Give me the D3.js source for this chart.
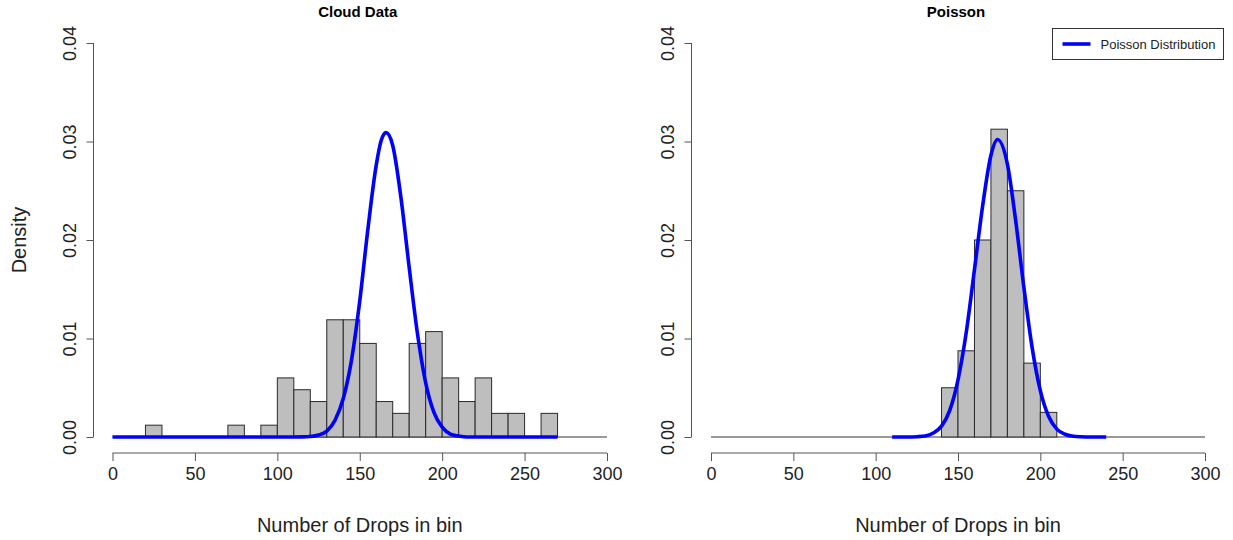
<!DOCTYPE html>
<meta charset="utf-8">
<style>
body { margin: 0; background: #fff; }
svg { font-family: "Liberation Sans", Arial, sans-serif; }
.axis path, .axis line { stroke: #555; }
.axis text { fill: #222; font-size: 18px; }
.bars rect { fill: #bebebe; stroke: #2a2a2a; stroke-width: 1; }
</style>
<svg width="1233" height="540"></svg>
<script src="https://d3js.org/d3.v7.min.js"></script>
<script>
// cloud data histogram: bin lower edges (width 10) and densities
var cloudBins = [20, 70, 90, 100, 110, 120, 130, 140, 150, 160, 170, 180, 190, 200, 210, 220, 230, 240, 260];
var cloudDensity = [0.0012, 0.0012, 0.0012, 0.0060, 0.0048, 0.0036, 0.0119, 0.0119, 0.0095, 0.0036, 0.0024,
  0.0095, 0.0107, 0.0060, 0.0036, 0.0060, 0.0024, 0.0024, 0.0024];

// blue curve on the cloud panel
var cloudCurveX = [0, 110, 115, 120, 125, 130, 135, 140, 145, 150, 155, 160, 163, 166, 170, 175, 180, 185, 190, 195, 200, 205, 210, 215, 270];
var cloudCurveY = [0, 0, 0.00001, 0.00005, 0.0002, 0.0006, 0.0017, 0.0039, 0.0078, 0.0138, 0.0212, 0.0276, 0.0301, 0.0309, 0.0296, 0.0243, 0.0172, 0.0105, 0.0055, 0.0025, 0.0010, 0.0003, 0.0001, 0, 0];

// poisson panel histogram
var poisBins = [140, 150, 160, 170, 180, 190, 200];
var poisDensity = [0.0050, 0.00875, 0.0200, 0.03125, 0.0250, 0.0075, 0.0025];

var poisCurveX = [110, 120, 125, 130, 135, 140, 145, 150, 155, 160, 165, 170, 174, 180, 185, 190, 195, 200, 205, 210, 215, 220, 225, 230, 240];
var poisCurveY = [0, 0, 0.00003, 0.0001, 0.0004, 0.0011, 0.0027, 0.0058, 0.0106, 0.0170, 0.0235, 0.0286, 0.0302, 0.0277, 0.0220, 0.0152, 0.0091, 0.0047, 0.0021, 0.0008, 0.00028, 0.00008, 0.00002, 0, 0];

var xTicks = [0, 50, 100, 150, 200, 250, 300];
var yTicks = [0, 0.01, 0.02, 0.03, 0.04];

var svg = d3.select("svg");

function panel(opt) {
  var x = d3.scaleLinear().domain([0, 300]).range(opt.xr);
  var y = d3.scaleLinear().domain([0, 0.04]).range([437, 43]);
  var g = svg.append("g");

  // title
  g.append("text")
    .attr("x", (opt.xr[0] + opt.xr[1]) / 2 - 2)
    .attr("y", 17)
    .attr("text-anchor", "middle")
    .style("font-weight", "bold")
    .style("font-size", "15px")
    .text(opt.title);

  // baseline
  g.append("line")
    .attr("x1", x(0)).attr("x2", x(300))
    .attr("y1", y(0)).attr("y2", y(0))
    .attr("stroke", "#777").attr("stroke-width", 1.5);

  // bars
  g.append("g").attr("class", "bars")
    .selectAll("rect")
    .data(opt.bins)
    .enter().append("rect")
    .attr("x", function(d) { return x(d); })
    .attr("width", function(d) { return x(d + 10) - x(d); })
    .attr("y", function(d, i) { return y(opt.dens[i]); })
    .attr("height", function(d, i) { return y(0) - y(opt.dens[i]); });

  // curve
  var pts = opt.cx.map(function(v, i) { return [v, opt.cy[i]]; });
  g.append("path")
    .datum(pts)
    .attr("fill", "none")
    .attr("stroke", "#0000ff")
    .attr("stroke-width", 3.6)
    .attr("stroke-linejoin", "round")
    .attr("d", d3.line()
      .x(function(d) { return x(d[0]); })
      .y(function(d) { return y(d[1]); })
      .curve(d3.curveMonotoneX));

  // x axis
  var xa = g.append("g").attr("class", "axis")
    .attr("transform", "translate(0,453)")
    .call(d3.axisBottom(x).tickValues(xTicks).tickSize(8).tickPadding(6).tickFormat(d3.format("d")));
  xa.select(".domain").attr("d", "M" + x(0) + ",0H" + x(300));

  // y axis, labels rotated like R
  var ya = g.append("g").attr("class", "axis")
    .attr("transform", "translate(" + opt.yx + ",0)")
    .call(d3.axisLeft(y).tickValues(yTicks).tickSize(7).tickFormat(d3.format(".2f")));
  ya.select(".domain").attr("d", "M0," + y(0) + "V" + y(0.04));
  ya.selectAll(".tick text")
    .attr("x", null).attr("dy", null)
    .attr("text-anchor", "middle")
    .attr("transform", "translate(-18,0) rotate(-90)");

  // x title
  g.append("text")
    .attr("x", (opt.xr[0] + opt.xr[1]) / 2)
    .attr("y", 532)
    .attr("text-anchor", "middle")
    .style("font-size", "20px")
    .attr("fill", "#222")
    .text("Number of Drops in bin");

  return { x: x, y: y, g: g };
}

panel({ title: "Cloud Data", xr: [112.5, 607], yx: 93.5, bins: cloudBins, dens: cloudDensity, cx: cloudCurveX, cy: cloudCurveY });
var right = panel({ title: "Poisson", xr: [711, 1205], yx: 691.5, bins: poisBins, dens: poisDensity, cx: poisCurveX, cy: poisCurveY });

// y title on left panel
svg.append("text")
  .attr("transform", "translate(26,240) rotate(-90)")
  .attr("text-anchor", "middle")
  .style("font-size", "20px")
  .attr("fill", "#222")
  .text("Density");

// legend
var leg = svg.append("g").attr("transform", "translate(1052.5,28.5)");
leg.append("rect").attr("width", 171).attr("height", 31)
  .attr("fill", "#fff").attr("stroke", "#333").attr("stroke-width", 1);
leg.append("line").attr("x1", 10).attr("x2", 38).attr("y1", 15.5).attr("y2", 15.5)
  .attr("stroke", "#0000ff").attr("stroke-width", 3.6);
leg.append("text").attr("x", 48).attr("y", 20.5)
  .style("font-size", "13px").attr("fill", "#222")
  .text("Poisson Distribution");
</script>
